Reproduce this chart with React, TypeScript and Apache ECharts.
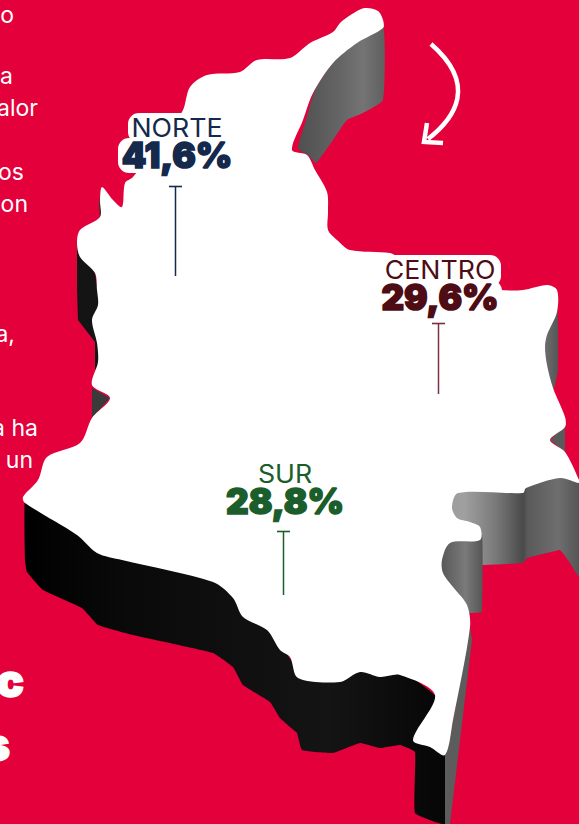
import React, { useEffect, useRef } from "react";
import * as echarts from "echarts";

const regions = ["NORTE", "CENTRO", "SUR"];
const shares = ["41,6%", "29,6%", "28,8%"];
const regionColors = ["#14294B", "#4E0C14", "#1B5E2B"];
const leaderColors = ["#14294B", "#7A3040", "#1B5E2B"];
const leftWords = ["o", "a", "alor", "os", "on", "a,", "a ha", "un"];
const leftBold = ["c", "s"];

const RED = "#E3003B";
const SANS = "Inter, 'Noto Sans', sans-serif";

const whiteOutline = [[290,58],[310,43],[333,32],[340,23],[352,14],[365,8],[378,11],[383,20],[383,28],[357,43],[333,63],[313,93],[303,120],[292,150],[307,155],[315,170],[327,192],[328,212],[328,230],[337,240],[350,250],[390,253],[400,258],[470,285],[500,290],[523,290],[547,285],[557,290],[557,312],[547,335],[545,347],[547,365],[553,388],[565,417],[565,427],[550,440],[565,452],[579,480],[579,483],[560,478],[526,488],[523,493],[458,493],[452,507],[457,518],[470,522],[480,527],[480,540],[450,543],[442,560],[443,573],[453,587],[467,605],[470,627],[453,720],[445,755],[430,747],[413,740],[435,695],[400,675],[380,677],[360,672],[340,682],[298,678],[290,657],[280,650],[267,630],[243,617],[233,598],[213,582],[122,560],[97,553],[77,535],[25,503],[23,497],[38,480],[47,457],[80,443],[92,418],[110,398],[92,385],[98,362],[97,343],[92,320],[98,305],[97,290],[95,273],[80,257],[77,243],[80,230],[100,217],[100,200],[102,187],[113,200],[122,207],[125,183],[133,177],[182,112],[190,87],[207,75],[240,72],[257,60]];
const topSide = [[383,25],[357,42],[333,62],[315,90],[306,120],[298,148],[309,156],[316,163],[333,140],[347,120],[363,113],[383,100]];
const bigSide = [[440,490],[523,490],[526,485],[560,475],[579,480],[579,577],[568,560],[560,550],[527,558],[523,563],[482,565],[480,552],[440,552]];
const lobeSide = [[440,535],[482,535],[482,612],[468,613],[440,590]];
const rightSide = [[557,308],[558,370],[553,390],[540,370],[540,340]];
const notchSide = [[550,440],[565,425],[565,452]];
const westSide = [[77,243],[95,273],[100,305],[99,365],[95,370],[95,342],[78,320],[77,290]];
const capeSide = [[101,188],[99,205],[100,218],[105,215]];
const dartSide = [[92,388],[110,398],[92,418]];
const southSide = [[25,497],[25,560],[27,572],[43,590],[82,608],[98,625],[133,635],[213,653],[233,667],[243,685],[270,702],[280,718],[290,727],[297,733],[302,750],[333,753],[360,743],[380,748],[400,745],[415,752],[415,813],[445,824],[445,750],[440,700],[400,670],[300,670],[250,600],[200,570],[100,545],[40,500]];
const southEdge = [[445,755],[453,720],[470,627],[472,640],[450,824],[445,824]];

const grey = (stops: [number, string][]) =>
  new echarts.graphic.LinearGradient(0, 0, 1, 0, stops.map(([offset, color]) => ({ offset, color })));

const shape = (pts: number[][], fill: any, z: number, smooth = 0.15) => ({
  type: "polygon", z, silent: true,
  shape: { points: pts, smooth },
  style: { fill },
});

const label = (text: string, x: number, y: number, font: string, fill: string, scaleX: number, heavy: number) => ({
  type: "text", z: 10, x, y, scaleX,
  style: {
    text, font, fill, align: "center", verticalAlign: "middle",
    ...(heavy ? { stroke: fill, lineWidth: heavy, lineJoin: "round" } : {}),
  },
});

const App = () => {
  const ref = useRef<HTMLDivElement>(null);
  useEffect(() => {
    const chart = echarts.init(ref.current!, null, { renderer: "svg" });
    const leaders = [[175.5, 186, 276], [438.5, 323, 394], [283.5, 531, 595]];
    const centres = [[177, 128, 155], [440, 270, 297], [285, 474, 501]];
    const halos = [[128, 113, 98, 30], [118, 138, 118, 35], [378, 255, 123, 32], [376, 280, 126, 32]];
    const haloEls = halos.map(([x, y, width, height]) => ({
      type: "rect", z: 8, shape: { x, y, width, height, r: 11 }, style: { fill: "#fff" },
    }));
    const lineEls = leaders.flatMap(([x, y1, y2], i) => [
      { type: "line", z: 9, shape: { x1: x, y1, x2: x, y2 }, style: { stroke: leaderColors[i], lineWidth: 1.5 } },
      { type: "line", z: 9, shape: { x1: x - 6.5, y1: y1 + 0.5, x2: x + 6.5, y2: y1 + 0.5 }, style: { stroke: leaderColors[i], lineWidth: 1.6 } },
    ]);
    const labelEls = regions.flatMap((r, i) => [
      label(r, centres[i][0], centres[i][1], `400 25px ${SANS}`, regionColors[i], 1.07, 0),
      label(shares[i], centres[i][0], centres[i][2], `900 35px ${SANS}`, regionColors[i], 1, 1.6),
    ]);
    const leftY = [15, 76, 108, 172, 204, 334, 428, 460];
    const leftX = [14, 13, 38, 24, 28, 15, 38, 33];
    const leftEls = leftWords.map((w, i) => ({
      type: "text", z: 2, x: leftX[i], y: leftY[i],
      style: { text: w, font: `400 23px ${SANS}`, fill: "#fff", align: "right", verticalAlign: "middle" },
    }));
    const boldEls = leftBold.map((w, i) => ({
      type: "text", z: 2, x: [24, 10][i], y: [680, 744][i],
      style: { text: w, font: `900 46px ${SANS}`, fill: "#fff", stroke: "#fff", lineWidth: 1.5, align: "right", verticalAlign: "middle" },
    }));
    chart.setOption({
      animation: false,
      backgroundColor: RED,
      graphic: { elements: [
        shape(topSide, grey([[0, "#4f4f4f"], [0.5, "#666"], [0.75, "#747474"], [1, "#5f5f5f"]]), 3),
        shape(bigSide, grey([[0, "#9a9a9a"], [0.18, "#a0a0a0"], [0.4, "#7a7a7a"], [0.6, "#4a4a4a"], [0.63, "#5a5a5a"], [0.85, "#6e6e6e"], [1, "#555"]]), 3, 0.05),
        shape(lobeSide, grey([[0, "#555"], [0.6, "#7a7a7a"], [1, "#555"]]), 3, 0.05),
        shape(rightSide, grey([[0, "#777"], [1, "#555"]]), 3),
        shape(notchSide, "#5a5a5a", 3, 0),
        shape(westSide, "#141414", 3, 0),
        shape(capeSide, "#333", 3, 0),
        shape(dartSide, "#3a3a3a", 3, 0),
        shape(southSide, grey([[0, "#000"], [0.25, "#0a0a0a"], [0.72, "#141414"], [1, "#060606"]]), 3, 0.1),
        shape(southEdge, "#5c5c5c", 3, 0),
        shape(whiteOutline, "#fff", 5, 0.3),
        ...leftEls, ...boldEls,
        {
          type: "bezierCurve", z: 4,
          shape: { x1: 431, y1: 44, cpx1: 478, cpy1: 85, cpx2: 455, cpy2: 118, x2: 428, y2: 139 },
          style: { stroke: "#fff", lineWidth: 4.5, fill: "none" },
        },
        {
          type: "polyline", z: 4,
          shape: { points: [[427, 123], [424, 142], [443, 143]] },
          style: { stroke: "#fff", lineWidth: 4.5, fill: "none" },
        },
        ...haloEls, ...lineEls, ...labelEls,
      ] },
    });
    return () => chart.dispose();
  }, []);
  return <div ref={ref} style={{ position: "fixed", left: 0, top: 0, width: 579, height: 824 }} />;
};

export default App;
